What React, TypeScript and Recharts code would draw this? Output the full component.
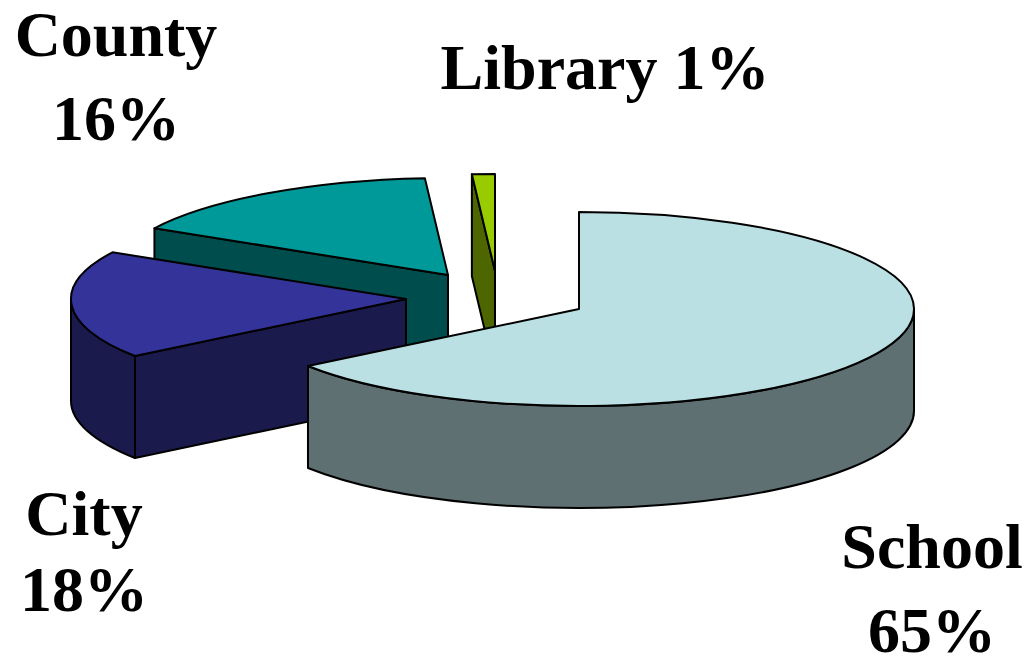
import React from 'react';
import { PieChart, Pie } from 'recharts';

// drawn back to front, counter-clockwise from 12 o'clock
const names = ['Library', 'County', 'City', 'School'];
const shares = [1.1, 15.9, 18, 65];

const topColors: Record<string, string> = {
    Library: '#99CC00',
    County: '#009999',
    City: '#333399',
    School: '#BBE0E3',
};
const wallColors: Record<string, string> = {
    Library: '#4D6600',
    County: '#004D4D',
    City: '#1A1A4D',
    School: '#5E7072',
};

const WIDTH = 1030;
const HEIGHT = 657;
const CX = 579;
const CY = 309;
const RX = 335;
const RY = 97;
const DEPTH = 102;

// how far each slice is pulled out of the pie
const explode: Record<string, [number, number]> = {
    Library: [-84, -38],
    County: [-131, -34],
    City: [-173, -10],
    School: [0, 0],
};

const labelLines: Record<string, { x: number; y: number; oneLine?: boolean }> = {
    Library: { x: 605, y: 89, oneLine: true },
    County: { x: 116, y: 56 },
    City: { x: 84, y: 535 },
    School: { x: 932, y: 568 },
};
const lineGaps: Record<string, number> = { County: 84, City: 76, School: 84 };

const rad = (deg: number) => (deg * Math.PI) / 180;

const Slice3D = (props: any) => {
    const { cx, cy, startAngle, endAngle, name, outerRadius } = props;
    const sliceName = name ?? props.payload?.name;
    const [dx, dy] = explode[sliceName];
    const ox = cx + dx;
    const oy = cy + dy;
    const ry = (outerRadius * RY) / RX;

    // recharts angles are math degrees; a/b here run clockwise from the top of the pie
    const a = 90 - Math.max(startAngle, endAngle);
    const b = 90 - Math.min(startAngle, endAngle);
    const pt = (deg: number, drop = 0): [number, number] => [
        ox + outerRadius * Math.sin(rad(deg)),
        oy - ry * Math.cos(rad(deg)) + drop,
    ];
    const norm = (deg: number) => ((deg % 360) + 360) % 360;
    const a0 = norm(a);
    const b0 = a0 + (b - a);

    const cutFace = (deg: number) => {
        const p = pt(deg);
        return `M${ox},${oy} L${p[0]},${p[1]} L${p[0]},${p[1] + DEPTH} L${ox},${oy + DEPTH} Z`;
    };
    const wallFrom = Math.max(a0, 90);
    const wallTo = Math.min(b0, 270);
    let wall = '';
    if (wallTo > wallFrom) {
        const p = pt(wallFrom);
        const q = pt(wallTo);
        const large = wallTo - wallFrom > 180 ? 1 : 0;
        wall =
            `M${p[0]},${p[1]} A${outerRadius},${ry} 0 ${large} 1 ${q[0]},${q[1]} ` +
            `L${q[0]},${q[1] + DEPTH} A${outerRadius},${ry} 0 ${large} 0 ${p[0]},${p[1] + DEPTH} Z`;
    }
    const s = pt(a0);
    const e = pt(b0);
    const top = `M${ox},${oy} L${s[0]},${s[1]} A${outerRadius},${ry} 0 ${b0 - a0 > 180 ? 1 : 0} 1 ${e[0]},${e[1]} Z`;

    const common = { stroke: '#000', strokeWidth: 2, strokeLinejoin: 'round' as const };
    return (
        <g>
            {Math.sin(rad(a0)) < -0.001 && <path d={cutFace(a0)} fill={wallColors[sliceName]} {...common} />}
            {Math.sin(rad(b0)) > 0.001 && <path d={cutFace(b0)} fill={wallColors[sliceName]} {...common} />}
            {wall && <path d={wall} fill={wallColors[sliceName]} {...common} />}
            <path d={top} fill={topColors[sliceName]} {...common} />
        </g>
    );
};

const SliceLabel = (props: any) => {
    const sliceName = props.name ?? props.payload?.name;
    const pos = labelLines[sliceName];
    const pct = `${Math.round(props.value)}%`;
    const style = { fontFamily: '"Liberation Serif", serif', fontWeight: 700, fontSize: 64 };
    if (pos.oneLine) {
        return (
            <text x={pos.x} y={pos.y} textAnchor="middle" fill="#000" style={style}>
                {`${sliceName} ${pct}`}
            </text>
        );
    }
    return (
        <g>
            <text x={pos.x} y={pos.y} textAnchor="middle" fill="#000" style={style}>
                {sliceName}
            </text>
            <text x={pos.x} y={pos.y + lineGaps[sliceName]} textAnchor="middle" fill="#000" style={style}>
                {pct}
            </text>
        </g>
    );
};

const data = names.map((name, i) => ({ name, value: shares[i] }));

export default function App() {
    return (
        <div style={{ position: 'absolute', left: 0, top: 0, width: WIDTH, height: HEIGHT, background: '#fff' }}>
            <PieChart width={WIDTH} height={HEIGHT} margin={{ top: 0, right: 0, bottom: 0, left: 0 }}>
                <Pie
                    data={data}
                    dataKey="value"
                    nameKey="name"
                    cx={CX}
                    cy={CY}
                    innerRadius={0}
                    outerRadius={RX}
                    startAngle={90}
                    endAngle={450}
                    paddingAngle={0}
                    stroke="none"
                    shape={Slice3D}
                    label={SliceLabel}
                    labelLine={false}
                    isAnimationActive={false}
                />
            </PieChart>
        </div>
    );
}
